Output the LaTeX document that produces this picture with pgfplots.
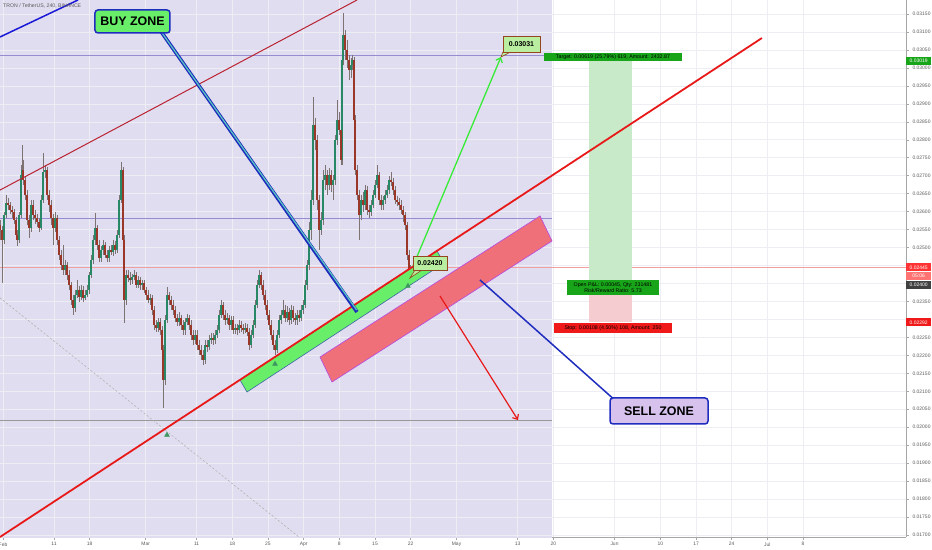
\documentclass[border=0pt]{standalone}
\usepackage{pgfplots}
\pgfplotsset{compat=1.18}
\usepackage{pgfplotstable}
\usepackage{fontspec}
\setmainfont{Liberation Sans}
\usetikzlibrary{arrows.meta}
\definecolor{lav}{RGB}{225,221,240}
\definecolor{gridc}{RGB}{238,237,244}
\definecolor{wickc}{RGB}{125,115,115}
\definecolor{upc}{RGB}{40,135,100}
\definecolor{dnc}{RGB}{155,55,40}
\definecolor{redl}{RGB}{232,25,25}
\definecolor{darkred}{RGB}{185,35,50}
\definecolor{blueline}{RGB}{25,25,215}
\definecolor{buyfill}{RGB}{105,238,105}
\definecolor{buyedge}{RGB}{60,100,170}
\definecolor{sellfill}{RGB}{240,112,122}
\definecolor{selledge}{RGB}{185,80,220}
\definecolor{zoneblue}{RGB}{30,45,190}
\definecolor{sellbox}{RGB}{214,194,236}
\definecolor{garrow}{RGB}{55,235,55}
\definecolor{labfill}{RGB}{185,238,160}
\definecolor{labedge}{RGB}{150,70,30}
\definecolor{longg}{RGB}{200,234,200}
\definecolor{longr}{RGB}{245,205,208}
\definecolor{tgtg}{RGB}{25,165,25}
\definecolor{stopr}{RGB}{240,25,25}
\definecolor{hpurple}{RGB}{150,140,210}
\definecolor{lastl}{RGB}{240,160,160}
\definecolor{tickc}{RGB}{90,90,90}
\definecolor{markg}{RGB}{60,150,95}
\definecolor{pointc}{RGB}{90,200,190}

\pgfplotstableread{
d o h l c
-0.59 0.02563 0.02577 0.02521 0.02549
-0.20 0.02549 0.02560 0.02402 0.02521
0.20 0.02521 0.02599 0.02510 0.02591
0.59 0.02591 0.02646 0.02583 0.02624
0.98 0.02624 0.02638 0.02605 0.02618
1.37 0.02618 0.02626 0.02594 0.02605
1.77 0.02605 0.02615 0.02583 0.02599
2.16 0.02599 0.02607 0.02566 0.02577
2.55 0.02577 0.02585 0.02527 0.02535
2.75 0.02535 0.02549 0.02504 0.02521
3.14 0.02521 0.02599 0.02513 0.02591
3.53 0.02591 0.02730 0.02583 0.02702
3.73 0.02702 0.02785 0.02688 0.02716
3.92 0.02716 0.02744 0.02674 0.02688
4.32 0.02688 0.02699 0.02632 0.02646
4.71 0.02646 0.02660 0.02563 0.02577
5.10 0.02577 0.02591 0.02527 0.02554
5.49 0.02554 0.02632 0.02543 0.02618
5.89 0.02618 0.02632 0.02577 0.02591
6.28 0.02591 0.02605 0.02566 0.02583
6.67 0.02583 0.02594 0.02557 0.02571
7.06 0.02571 0.02583 0.02543 0.02554
7.46 0.02554 0.02646 0.02549 0.02632
7.85 0.02632 0.02763 0.02624 0.02710
8.24 0.02710 0.02730 0.02694 0.02716
8.63 0.02716 0.02724 0.02632 0.02646
9.03 0.02646 0.02660 0.02599 0.02618
9.42 0.02618 0.02632 0.02563 0.02583
9.81 0.02583 0.02594 0.02507 0.02554
10.20 0.02554 0.02599 0.02543 0.02583
10.60 0.02583 0.02591 0.02507 0.02521
10.99 0.02521 0.02532 0.02465 0.02479
11.38 0.02479 0.02493 0.02438 0.02452
11.77 0.02452 0.02507 0.02424 0.02438
12.17 0.02438 0.02465 0.02424 0.02452
12.56 0.02452 0.02460 0.02410 0.02424
12.95 0.02424 0.02438 0.02382 0.02396
13.34 0.02396 0.02404 0.02340 0.02354
13.74 0.02354 0.02368 0.02312 0.02332
14.13 0.02332 0.02382 0.02321 0.02368
14.52 0.02368 0.02410 0.02359 0.02382
14.91 0.02382 0.02393 0.02349 0.02363
15.31 0.02363 0.02396 0.02354 0.02382
15.70 0.02382 0.02393 0.02349 0.02360
16.09 0.02360 0.02382 0.02354 0.02368
16.48 0.02368 0.02396 0.02363 0.02382
16.88 0.02382 0.02432 0.02371 0.02424
17.27 0.02424 0.02479 0.02415 0.02465
17.66 0.02465 0.02535 0.02454 0.02521
18.05 0.02521 0.02596 0.02507 0.02554
18.45 0.02554 0.02563 0.02493 0.02507
18.84 0.02507 0.02521 0.02460 0.02471
19.23 0.02471 0.02504 0.02460 0.02493
19.62 0.02493 0.02521 0.02479 0.02507
20.02 0.02507 0.02515 0.02471 0.02479
20.41 0.02479 0.02493 0.02460 0.02471
20.80 0.02471 0.02504 0.02460 0.02493
21.19 0.02493 0.02507 0.02479 0.02488
21.59 0.02488 0.02521 0.02476 0.02507
21.98 0.02507 0.02518 0.02482 0.02493
22.37 0.02493 0.02549 0.02485 0.02535
22.76 0.02535 0.02646 0.02527 0.02632
23.16 0.02632 0.02738 0.02624 0.02716
23.55 0.02716 0.02724 0.02507 0.02521
23.75 0.02521 0.02535 0.02290 0.02354
24.14 0.02354 0.02438 0.02340 0.02424
24.53 0.02424 0.02438 0.02404 0.02415
24.92 0.02415 0.02432 0.02396 0.02410
25.31 0.02410 0.02426 0.02399 0.02418
25.71 0.02418 0.02438 0.02410 0.02424
26.10 0.02424 0.02432 0.02388 0.02396
26.49 0.02396 0.02421 0.02388 0.02410
26.88 0.02410 0.02418 0.02382 0.02396
27.28 0.02396 0.02410 0.02382 0.02401
27.67 0.02401 0.02410 0.02374 0.02382
28.06 0.02382 0.02390 0.02354 0.02368
28.45 0.02368 0.02382 0.02346 0.02354
28.85 0.02354 0.02371 0.02340 0.02360
29.24 0.02360 0.02368 0.02312 0.02326
29.63 0.02326 0.02337 0.02271 0.02285
30.02 0.02285 0.02298 0.02265 0.02276
30.42 0.02276 0.02304 0.02265 0.02293
30.81 0.02293 0.02304 0.02257 0.02271
31.20 0.02271 0.02282 0.02201 0.02215
31.40 0.02215 0.02229 0.02054 0.02131
31.79 0.02131 0.02312 0.02118 0.02298
32.18 0.02298 0.02390 0.02290 0.02368
32.57 0.02368 0.02376 0.02340 0.02354
32.97 0.02354 0.02365 0.02326 0.02340
33.36 0.02340 0.02354 0.02312 0.02326
33.75 0.02326 0.02337 0.02293 0.02304
34.14 0.02304 0.02315 0.02282 0.02293
34.54 0.02293 0.02321 0.02282 0.02304
34.93 0.02304 0.02312 0.02271 0.02285
35.32 0.02285 0.02298 0.02257 0.02271
35.71 0.02271 0.02304 0.02257 0.02293
36.11 0.02293 0.02315 0.02285 0.02304
36.50 0.02304 0.02312 0.02271 0.02285
36.89 0.02285 0.02298 0.02243 0.02257
37.28 0.02257 0.02271 0.02229 0.02243
37.68 0.02243 0.02271 0.02232 0.02257
38.07 0.02257 0.02271 0.02215 0.02229
38.46 0.02229 0.02243 0.02201 0.02215
38.85 0.02215 0.02229 0.02187 0.02201
39.25 0.02201 0.02215 0.02173 0.02187
39.64 0.02187 0.02243 0.02176 0.02229
40.03 0.02229 0.02243 0.02209 0.02223
40.42 0.02223 0.02257 0.02215 0.02243
40.82 0.02243 0.02262 0.02232 0.02248
41.21 0.02248 0.02262 0.02229 0.02243
41.60 0.02243 0.02271 0.02232 0.02257
41.99 0.02257 0.02285 0.02248 0.02271
42.39 0.02271 0.02326 0.02262 0.02312
42.78 0.02312 0.02354 0.02304 0.02340
43.17 0.02340 0.02349 0.02298 0.02312
43.56 0.02312 0.02326 0.02285 0.02298
43.96 0.02298 0.02318 0.02287 0.02304
44.35 0.02304 0.02312 0.02271 0.02285
44.74 0.02285 0.02309 0.02271 0.02298
45.13 0.02298 0.02309 0.02259 0.02271
45.53 0.02271 0.02287 0.02259 0.02276
45.92 0.02276 0.02287 0.02257 0.02271
46.31 0.02271 0.02298 0.02262 0.02285
46.70 0.02285 0.02296 0.02265 0.02276
47.10 0.02276 0.02287 0.02259 0.02271
47.49 0.02271 0.02290 0.02262 0.02276
47.88 0.02276 0.02287 0.02254 0.02265
48.27 0.02265 0.02276 0.02215 0.02229
48.67 0.02229 0.02271 0.02220 0.02257
49.06 0.02257 0.02298 0.02248 0.02285
49.45 0.02285 0.02354 0.02276 0.02340
49.84 0.02340 0.02410 0.02332 0.02396
50.23 0.02396 0.02438 0.02388 0.02424
50.63 0.02424 0.02432 0.02382 0.02396
51.02 0.02396 0.02410 0.02354 0.02368
51.41 0.02368 0.02382 0.02326 0.02340
51.80 0.02340 0.02354 0.02298 0.02312
52.20 0.02312 0.02326 0.02271 0.02285
52.59 0.02285 0.02298 0.02243 0.02257
52.98 0.02257 0.02271 0.02215 0.02229
53.37 0.02229 0.02243 0.02201 0.02215
53.77 0.02215 0.02271 0.02207 0.02257
54.16 0.02257 0.02312 0.02248 0.02298
54.55 0.02298 0.02326 0.02287 0.02312
54.94 0.02312 0.02354 0.02304 0.02326
55.34 0.02326 0.02340 0.02293 0.02304
55.73 0.02304 0.02337 0.02293 0.02321
56.12 0.02321 0.02332 0.02285 0.02298
56.51 0.02298 0.02340 0.02287 0.02326
56.91 0.02326 0.02337 0.02293 0.02304
57.30 0.02304 0.02318 0.02285 0.02298
57.69 0.02298 0.02326 0.02285 0.02312
58.08 0.02312 0.02326 0.02293 0.02304
58.48 0.02304 0.02340 0.02296 0.02326
58.87 0.02326 0.02354 0.02315 0.02340
59.26 0.02340 0.02410 0.02332 0.02396
59.65 0.02396 0.02465 0.02382 0.02452
60.05 0.02452 0.02571 0.02438 0.02549
60.44 0.02549 0.02660 0.02521 0.02632
60.83 0.02632 0.02919 0.02618 0.02841
61.22 0.02841 0.02861 0.02772 0.02799
61.62 0.02799 0.02813 0.02605 0.02632
62.01 0.02632 0.02646 0.02493 0.02549
62.40 0.02549 0.02599 0.02535 0.02577
62.79 0.02577 0.02716 0.02563 0.02688
63.19 0.02688 0.02730 0.02660 0.02702
63.58 0.02702 0.02716 0.02646 0.02674
63.97 0.02674 0.02721 0.02660 0.02702
64.36 0.02702 0.02716 0.02655 0.02674
64.76 0.02674 0.02702 0.02632 0.02688
65.15 0.02688 0.02813 0.02674 0.02799
65.54 0.02799 0.02911 0.02785 0.02855
65.93 0.02855 0.02877 0.02813 0.02827
66.33 0.02827 0.02841 0.02730 0.02744
66.52 0.02744 0.03036 0.02730 0.03022
66.72 0.03022 0.03153 0.03008 0.03092
67.11 0.03092 0.03105 0.03022 0.03050
67.50 0.03050 0.03078 0.03000 0.03022
67.90 0.03022 0.03036 0.02966 0.02994
68.29 0.02994 0.03028 0.02972 0.03008
68.49 0.03008 0.03036 0.02994 0.03022
68.88 0.03022 0.03030 0.02841 0.02855
69.07 0.02855 0.02869 0.02702 0.02716
69.47 0.02716 0.02730 0.02632 0.02646
69.86 0.02646 0.02660 0.02521 0.02591
70.25 0.02591 0.02646 0.02577 0.02632
70.64 0.02632 0.02655 0.02599 0.02618
71.04 0.02618 0.02674 0.02605 0.02660
71.43 0.02660 0.02671 0.02591 0.02605
71.82 0.02605 0.02618 0.02583 0.02599
72.21 0.02599 0.02632 0.02588 0.02618
72.61 0.02618 0.02660 0.02610 0.02646
73.00 0.02646 0.02688 0.02638 0.02674
73.39 0.02674 0.02730 0.02666 0.02702
73.78 0.02702 0.02710 0.02618 0.02632
74.18 0.02632 0.02646 0.02605 0.02618
74.57 0.02618 0.02643 0.02605 0.02632
74.96 0.02632 0.02660 0.02621 0.02646
75.35 0.02646 0.02674 0.02638 0.02660
75.74 0.02660 0.02699 0.02649 0.02688
76.14 0.02688 0.02710 0.02671 0.02682
76.53 0.02682 0.02694 0.02646 0.02660
76.92 0.02660 0.02671 0.02621 0.02632
77.31 0.02632 0.02643 0.02615 0.02626
77.71 0.02626 0.02638 0.02605 0.02618
78.10 0.02618 0.02632 0.02594 0.02605
78.49 0.02605 0.02615 0.02571 0.02591
78.88 0.02591 0.02599 0.02549 0.02563
79.28 0.02563 0.02571 0.02465 0.02479
79.67 0.02479 0.02493 0.02410 0.02424
79.86 0.02424 0.02452 0.02413 0.02445
}\candles

\begin{document}
\begin{tikzpicture}
\useasboundingbox (0,-13bp) rectangle (932bp,537bp);
\begin{axis}[
  at={(0,0)}, anchor=south west,
  scale only axis, width=906bp, height=537bp,
  xmin=-0.589, xmax=177.2, ymin=0.016945, ymax=0.03189,
  clip mode=individual, unbounded coords=jump,
  axis x line*=bottom, axis y line*=right,
  axis line style={draw=gray!70, line width=0.6bp},
  tick align=outside, major tick length=3bp,
  tick style={draw=gray!70, line width=0.5bp},
  xtick={0,10,17,28,38,45,52,59,66,73,80,89,101,108,120,129,136,143,150,157},
  xticklabels={Feb,11,18,Mar,11,18,25,Apr,8,15,22,May,13,20,Jun,10,17,24,Jul,8},
  ytick={0.017,0.0175,0.018,0.0185,0.019,0.0195,0.02,0.0205,0.021,0.0215,0.022,0.0225,0.023,0.0235,0.024,0.0245,0.025,0.0255,0.026,0.0265,0.027,0.0275,0.028,0.0285,0.029,0.0295,0.03,0.0305,0.031,0.0315},
  yticklabels={0.01700,0.01750,0.01800,0.01850,0.01900,0.01950,0.02000,0.02050,0.02100,0.02150,0.02200,0.02250,,0.02350,,,0.02500,0.02550,0.02600,0.02650,0.02700,0.02750,0.02800,0.02850,0.02900,0.02950,0.03000,0.03050,0.03100,0.03150},
  scaled y ticks=false, scaled x ticks=false,
  ticklabel style={font=\fontsize{5}{6}\selectfont, text=tickc},
  xticklabel style={yshift=1bp},
]
% background shading
\addplot[fill=lav, draw=none] coordinates {(-1,0.0160) (107.7,0.0160) (107.7,0.0330) (-1,0.0330)} -- cycle;

% grid
\addplot[gridc, line width=0.6bp, ycomb] coordinates {(0,0.04) (10,0.04) (17,0.04) (28,0.04) (38,0.04) (45,0.04) (52,0.04) (59,0.04) (66,0.04) (73,0.04) (80,0.04) (89,0.04) (101,0.04) (108,0.04) (120,0.04) (129,0.04) (136,0.04) (143,0.04) (150,0.04) (157,0.04)};
\addplot[gridc, line width=0.6bp] coordinates {
(-1,0.017) (178,0.017) (nan,nan) (-1,0.0175) (178,0.0175) (nan,nan)
(-1,0.018) (178,0.018) (nan,nan) (-1,0.0185) (178,0.0185) (nan,nan)
(-1,0.019) (178,0.019) (nan,nan) (-1,0.0195) (178,0.0195) (nan,nan)
(-1,0.020) (178,0.020) (nan,nan) (-1,0.0205) (178,0.0205) (nan,nan)
(-1,0.021) (178,0.021) (nan,nan) (-1,0.0215) (178,0.0215) (nan,nan)
(-1,0.022) (178,0.022) (nan,nan) (-1,0.0225) (178,0.0225) (nan,nan)
(-1,0.023) (178,0.023) (nan,nan) (-1,0.0235) (178,0.0235) (nan,nan)
(-1,0.024) (178,0.024) (nan,nan) (-1,0.0245) (178,0.0245) (nan,nan)
(-1,0.025) (178,0.025) (nan,nan) (-1,0.0255) (178,0.0255) (nan,nan)
(-1,0.026) (178,0.026) (nan,nan) (-1,0.0265) (178,0.0265) (nan,nan)
(-1,0.027) (178,0.027) (nan,nan) (-1,0.0275) (178,0.0275) (nan,nan)
(-1,0.028) (178,0.028) (nan,nan) (-1,0.0285) (178,0.0285) (nan,nan)
(-1,0.029) (178,0.029) (nan,nan) (-1,0.0295) (178,0.0295) (nan,nan)
(-1,0.030) (178,0.030) (nan,nan) (-1,0.0305) (178,0.0305) (nan,nan)
(-1,0.031) (178,0.031) (nan,nan) (-1,0.0315) (178,0.0315)};

% horizontal levels
\addplot[hpurple, line width=0.8bp] coordinates {(-0.59,0.03036) (107.7,0.03036)};
\addplot[hpurple, line width=0.9bp] coordinates {(-0.59,0.02582) (107.7,0.02582)};
\addplot[gray!80, line width=0.6bp] coordinates {(-0.59,0.02020) (107.7,0.02020)};
\addplot[lastl, line width=0.6bp] coordinates {(-0.59,0.02445) (177.2,0.02445)};
\addplot[gray!60, line width=0.6bp, dash pattern=on 2bp off 2bp] coordinates {(-0.59,0.02360) (58.08,0.016945)};

% long position tool
\addplot[fill=longg, draw=none] coordinates {(114.99,0.02400) (123.43,0.02400) (123.43,0.03019) (114.99,0.03019)} -- cycle;
\addplot[fill=longr, draw=none] coordinates {(114.99,0.02292) (123.43,0.02292) (123.43,0.02400) (114.99,0.02400)} -- cycle;

% candles: wicks
\addplot[draw=none, mark=none, error bars/.cd, y dir=both, y explicit, error mark=none,
  error bar style={draw=wickc, line width=0.4bp}]
  table[x=d, y expr={(\thisrow{h}+\thisrow{l})/2}, y error expr={(\thisrow{h}-\thisrow{l})/2}] {\candles};
% bodies up
\addplot[draw=none, mark=none, restrict expr to domain={\thisrow{c}-\thisrow{o}}{0:1},
  error bars/.cd, y dir=both, y explicit, error mark=none,
  error bar style={draw=upc, line width=1.3bp}]
  table[x=d, y expr={(\thisrow{o}+\thisrow{c})/2}, y error expr={abs(\thisrow{c}-\thisrow{o})/2}] {\candles};
% bodies down
\addplot[draw=none, mark=none, restrict expr to domain={\thisrow{c}-\thisrow{o}}{-1:0},
  error bars/.cd, y dir=both, y explicit, error mark=none,
  error bar style={draw=dnc, line width=1.3bp}]
  table[x=d, y expr={(\thisrow{o}+\thisrow{c})/2}, y error expr={abs(\thisrow{c}-\thisrow{o})/2}] {\candles};

% trend lines
\addplot[blueline, line width=1.5bp] coordinates {(-0.59,0.03086) (14.72,0.03189)};
\addplot[darkred, line width=1bp] coordinates {(-0.59,0.02660) (69.47,0.03189)};

% zones
\addplot[fill=sellfill, draw=selledge, line width=0.7bp] coordinates {(62.21,0.021955) (105.38,0.025879) (107.73,0.025183) (64.56,0.021259)} -- cycle;
\addplot[fill=buyfill, draw=buyedge, line width=0.6bp] coordinates {(46.51,0.021315) (85.17,0.024905) (86.54,0.024571) (47.88,0.020981)} -- cycle;

\addplot[redl, line width=1.8bp] coordinates {(-0.59,0.016945) (148.94,0.030832)};

% pointers
\addplot[zoneblue, line width=3.6bp] coordinates {(30.81,0.031055) (69.47,0.023207)};
\addplot[pointc, line width=1.2bp] coordinates {(30.81,0.031055) (69.40,0.023260)};
\addplot[zoneblue, line width=1.5bp] coordinates {(93.60,0.024098) (120.49,0.020702)};

% arrows
\addplot[garrow, line width=1.3bp, -{Straight Barb[length=4bp,width=7bp]}] coordinates {(80.46,0.024487) (97.72,0.030304)};
\addplot[redl, line width=1.2bp, -{Straight Barb[length=4bp,width=7bp]}] coordinates {(85.75,0.023652) (101.06,0.020201)};

% markers
\addplot[only marks, mark=triangle*, mark size=2.8bp, color=markg] coordinates {(32.18,0.019784) (53.38,0.021760) (79.47,0.023931)};

% label pointers
\addplot[fill=labfill, draw=labedge, line width=0.6bp] coordinates {(98.10,0.030440) (99.60,0.030440) (97.72,0.030304)} -- cycle;
\addplot[fill=labfill, draw=labedge, line width=0.6bp] coordinates {(80.85,0.024376) (82.22,0.024376) (79.86,0.024153)} -- cycle;

% labels in chart
\node[anchor=north west, inner sep=0pt, font=\fontsize{5.2}{6}\selectfont, text=tickc] at (rel axis cs:0.0033,0.9925) {TRON / TetherUS, 240, BINANCE};
\node[fill=buyfill, draw=zoneblue, line width=1.5bp, rounded corners=3bp, minimum width=75bp, minimum height=23bp, inner sep=0pt, font=\bfseries\fontsize{12.5}{14}\selectfont] at (axis cs:25.41,0.031292) {BUY ZONE};
\node[fill=sellbox, draw=zoneblue, line width=1.5bp, rounded corners=3bp, minimum width=98bp, minimum height=26bp, inner sep=0pt, font=\bfseries\fontsize{12.5}{14}\selectfont] at (axis cs:128.73,0.020452) {SELL ZONE};
\node[fill=labfill, draw=labedge, line width=0.7bp, minimum width=37bp, minimum height=16bp, inner sep=0pt, font=\bfseries\fontsize{7}{8}\selectfont] at (axis cs:101.75,0.030665) {0.03031};
\node[fill=labfill, draw=labedge, line width=0.7bp, minimum width=34bp, minimum height=14bp, inner sep=0pt, font=\bfseries\fontsize{7}{8}\selectfont] at (axis cs:83.79,0.024571) {0.02420};

\node[fill=tgtg, minimum width=138bp, minimum height=8bp, inner sep=0pt, font=\fontsize{5.3}{6}\selectfont] at (axis cs:119.70,0.030304) {Target: 0.00619 (25.79\%) 619, Amount: 2432.87};
\node[fill=tgtg, minimum width=92bp, minimum height=15bp, inner sep=0pt, align=center, font=\fontsize{5.3}{6}\selectfont] at (axis cs:119.70,0.023889) {Open P\&L: 0.00045, Qty: 231481\\Risk/Reward Ratio: 5.73};
\node[fill=stopr, minimum width=118bp, minimum height=10bp, inner sep=0pt, font=\fontsize{5.3}{6}\selectfont] at (axis cs:119.70,0.022762) {Stop: 0.00108 (4.50\%) 108, Amount: 250};

% price tags on the right axis
\node[anchor=west, fill=tgtg, text=white, minimum width=25bp, minimum height=8bp, inner sep=0pt, font=\fontsize{5}{6}\selectfont] at (axis cs:177.2,0.03019) {0.03019};
\node[anchor=west, fill=red!80!white, text=white, minimum width=25bp, minimum height=8bp, inner sep=0pt, font=\fontsize{5}{6}\selectfont] at (axis cs:177.2,0.02445) {0.02445};
\node[anchor=west, fill=red!55!white, text=white, minimum width=25bp, minimum height=7.5bp, inner sep=0pt, font=\fontsize{5}{6}\selectfont] at (axis cs:177.2,0.024209) {05:06};
\node[anchor=west, fill=black!75, text=white, minimum width=25bp, minimum height=8bp, inner sep=0pt, font=\fontsize{5}{6}\selectfont] at (axis cs:177.2,0.02396) {0.02400};
\node[anchor=west, fill=stopr, text=white, minimum width=25bp, minimum height=8bp, inner sep=0pt, font=\fontsize{5}{6}\selectfont] at (axis cs:177.2,0.02292) {0.02292};
\end{axis}
\end{tikzpicture}
\end{document}
